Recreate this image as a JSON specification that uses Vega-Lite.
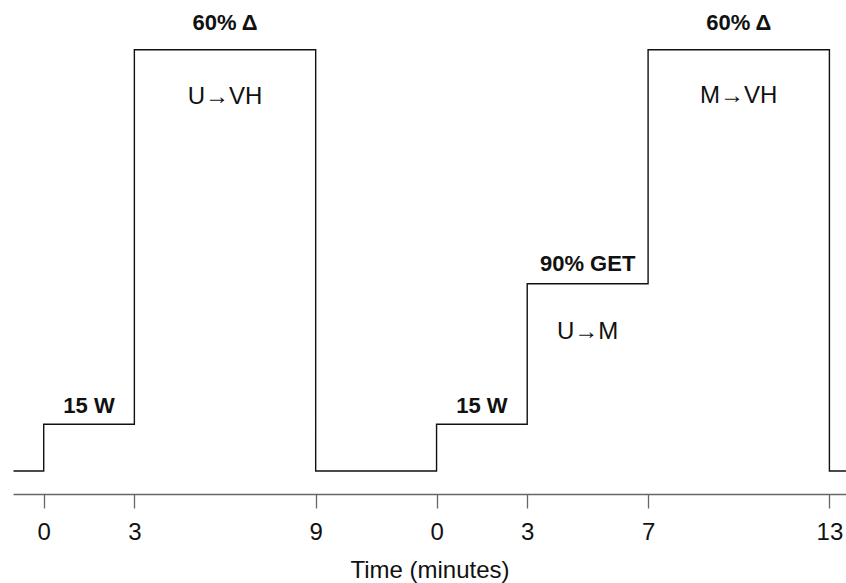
{
  "$schema": "https://vega.github.io/schema/vega-lite/v6.json",
  "width": 833,
  "height": 494,
  "autosize": "none",
  "padding": {"left": 13, "top": 0, "right": 0, "bottom": 89},
  "background": "white",
  "config": {
    "view": {"stroke": null},
    "font": "Liberation Sans"
  },
  "datasets": {
    "steps": [
      {"t": -1, "level": 0},
      {"t": 0, "level": 1},
      {"t": 3, "level": 9},
      {"t": 9, "level": 0},
      {"t": 13, "level": 1},
      {"t": 16, "level": 4},
      {"t": 20, "level": 9},
      {"t": 26, "level": 0},
      {"t": 26.6, "level": 0}
    ],
    "notes": [
      {"t": 1.5, "y": 1.24, "label": "15 W", "kind": "bold"},
      {"t": 6, "y": 9.42, "label": "60% Δ", "kind": "bold"},
      {"t": 6, "y": 7.84, "label": "U→VH", "kind": "plain"},
      {"t": 14.5, "y": 1.24, "label": "15 W", "kind": "bold"},
      {"t": 18, "y": 4.27, "label": "90% GET", "kind": "bold"},
      {"t": 18, "y": 2.82, "label": "U→M", "kind": "plain"},
      {"t": 23, "y": 9.42, "label": "60% Δ", "kind": "bold"},
      {"t": 23, "y": 7.86, "label": "M→VH", "kind": "plain"}
    ]
  },
  "layer": [
    {
      "data": {"name": "steps"},
      "mark": {"type": "line", "interpolate": "step-after", "color": "#111111", "strokeWidth": 1.4, "clip": true},
      "encoding": {
        "x": {
          "field": "t",
          "type": "quantitative",
          "scale": {"domain": [-1.016, 26.549], "nice": false, "zero": false},
          "axis": {
            "orient": "bottom",
            "values": [0, 3, 9, 13, 16, 20, 26],
            "labelExpr": "datum.value >= 13 ? format(datum.value - 13, 'd') : format(datum.value, 'd')",
            "grid": false,
            "domainColor": "#666666",
            "domainWidth": 1.3,
            "tickColor": "#666666",
            "tickWidth": 1.3,
            "tickSize": 14,
            "labelPadding": 12,
            "labelFontSize": 24,
            "labelColor": "#111111",
            "labelFont": "Liberation Sans",
            "title": "Time (minutes)",
            "titleFont": "Liberation Sans",
            "titleFontSize": 24,
            "titleFontWeight": "normal",
            "titleColor": "#111111",
            "titleBaseline": "alphabetic",
            "titleY": 83
          }
        },
        "y": {
          "field": "level",
          "type": "quantitative",
          "scale": {"domain": [-0.491, 10.064], "nice": false, "zero": false},
          "axis": null
        }
      }
    },
    {
      "data": {"name": "notes"},
      "transform": [{"filter": "datum.kind === 'bold'"}],
      "mark": {"type": "text", "font": "Liberation Sans", "fontSize": 22, "fontWeight": "bold", "align": "center", "baseline": "alphabetic", "color": "#111111"},
      "encoding": {
        "x": {"field": "t", "type": "quantitative"},
        "y": {"field": "y", "type": "quantitative"},
        "text": {"field": "label"}
      }
    },
    {
      "data": {"name": "notes"},
      "transform": [{"filter": "datum.kind === 'plain'"}],
      "mark": {"type": "text", "font": "Liberation Sans", "fontSize": 24, "fontWeight": "normal", "align": "center", "baseline": "alphabetic", "color": "#111111"},
      "encoding": {
        "x": {"field": "t", "type": "quantitative"},
        "y": {"field": "y", "type": "quantitative"},
        "text": {"field": "label"}
      }
    }
  ]
}
